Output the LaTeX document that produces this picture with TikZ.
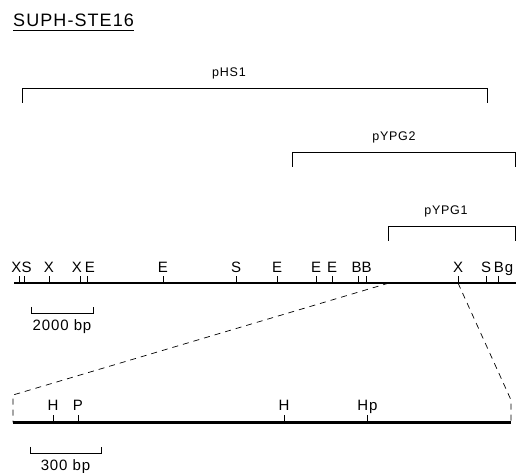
\documentclass[tikz,border=0pt]{standalone}
\usepackage{fontspec}
\setmainfont{Liberation Sans}[LetterSpace=6]
\usetikzlibrary{positioning,calc}

\begin{document}
\begin{tikzpicture}[x=1pt,y=1pt,every node/.style={font=\fontsize{15}{15}\selectfont,inner sep=0pt},
      mapline/.style={line width=2.2pt},
      clone/.style={line width=0.9pt},
      site/.style={line width=0.9pt},
      zoomline/.style={line width=0.7pt,dash pattern=on 6pt off 5pt}]
    \useasboundingbox (0,0) rectangle (516,473);
    % title
    \node[anchor=base west,font=\fontsize{18}{18}\selectfont] (title) at (13,446) {SUPH-STE16};
    \draw[line width=0.8pt] ([yshift=-3pt]title.base west) -- ([yshift=-3pt]title.base east);
    % clones
    \foreach \n/\a/\b/\y/\lx/\t in {hs/22/487/385/229/pHS1,yb/292/515/321/394/pYPG2,ya/388/515/247/446/pYPG1}{
      \coordinate (\n-l) at (\a,\y);
      \coordinate (\n-r) at (\b,\y);
      \draw[clone] ([yshift=-15pt]\n-l) -- (\n-l) -- (\n-r) -- ([yshift=-15pt]\n-r);
      \node[font=\fontsize{12.5}{12.5}\selectfont] (\n-lab) at (\lx,\y+15) {\t};
    }
    % genomic map
    \coordinate (mapL) at (14,190);
    \coordinate (mapR) at (516,190);
    \draw[mapline] (mapL) -- (mapR);
    \foreach \x/\lx/\t [count=\i] in {19/16.5/X,24/26.7/S,49/49/X,80/77/X,87/90/E,163/163/E,236/236/S,
        277/277/E,316/316/E,332/332/E,358/356.7/B,366/366.5/B,458/458/X,486/486/S,498/503.5/Bg}{
      \draw[site] (\x,190) -- (\x,197);
      \node[anchor=base] (s\i) at (\lx,200) {\t};
    }
    % scale bar 2000 bp
    \coordinate (barA) at (31,160);
    \coordinate (barB) at (93,160);
    \draw[site] ([yshift=6pt]barA) -- (barA) -- (barB) -- ([yshift=6pt]barB);
    \node[below=6pt of $(barA)!.5!(barB)$] (barlab) {2000 bp};
    % enlarged region
    \coordinate (cutL) at (389,190);
    \coordinate (cutR) at (458,190);
    \coordinate (lowL) at (13,50.5);
    \coordinate (lowR) at (511,50.5);
    \coordinate (lowLt) at (13,78);
    \coordinate (lowRt) at (511,73);
    \draw[zoomline] (cutL) -- (lowLt) -- (lowL);
    \draw[zoomline] (cutR) -- (lowRt) -- (lowR);
    \draw[mapline] (lowL) -- (lowR);
    \foreach \x/\lx/\t [count=\i] in {53/53/H,78/78/P,284/284/H,367/367.5/Hp}{
      \draw[site] (\x,50.5) -- (\x,58);
      \node[anchor=base] (h\i) at (\lx,62) {\t};
    }
    % scale bar 300 bp
    \coordinate (barC) at (30,20);
    \coordinate (barD) at (101,20);
    \draw[site] ([yshift=6pt]barC) -- (barC) -- (barD) -- ([yshift=6pt]barD);
    \node[below=6pt of $(barC)!.5!(barD)$] (barlab2) {300 bp};
\end{tikzpicture}
\end{document}
